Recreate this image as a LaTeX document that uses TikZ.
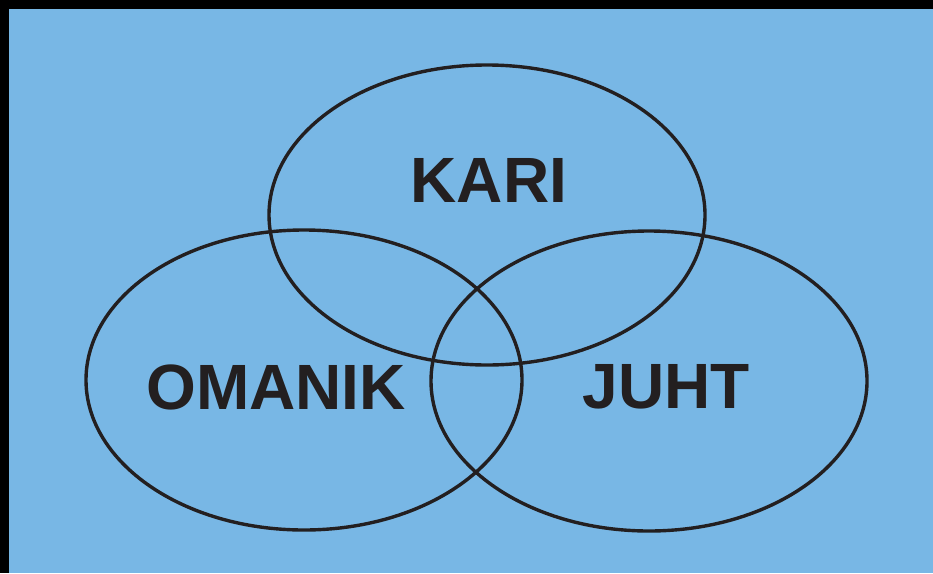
\documentclass[tikz,border=0pt]{standalone}
\usepackage{fontspec}
\setmainfont{Liberation Sans}
\usetikzlibrary{positioning}
\definecolor{skyfill}{HTML}{78B7E5}
\definecolor{inkline}{HTML}{231F20}
\tikzset{
  setring/.style={draw=inkline, line width=3.4pt},
  setlabel/.style={text=inkline, font=\fontsize{64}{64}\selectfont\bfseries, inner sep=0pt}
}

\begin{document}
\begin{tikzpicture}[x=1pt, y=-1pt]
  % Frame and background
  \fill[black] (0,0) rectangle (933,573);
  \fill[skyfill] (9,9) rectangle (933,573);
  \useasboundingbox (0,0) rectangle (933,573);

  % Three sets
  \draw[setring] (487,215) ellipse [x radius=218, y radius=150];
  \draw[setring] (304,380) ellipse [x radius=218, y radius=150];
  \draw[setring] (649,381) ellipse [x radius=218, y radius=150];

  % Labels
  \node[setlabel] (kari) at (489,180) {KARI};
  \node[setlabel] (omanik) at (276,387) {OMANIK};
  \node[setlabel] (juht) at (666,387) {JUHT};
\end{tikzpicture}
\end{document}
